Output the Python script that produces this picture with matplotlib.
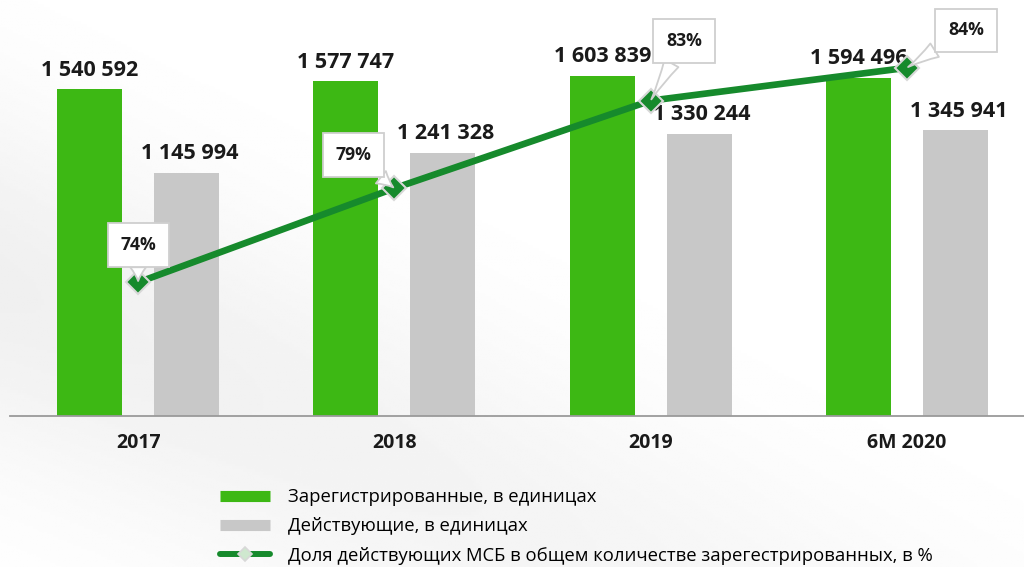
import matplotlib
matplotlib.use("Agg")
import matplotlib.pyplot as plt
from matplotlib.lines import Line2D
import numpy as np

categories = ["2017", "2018", "2019", "6M 2020"]
registered = [1540592, 1577747, 1603839, 1594496]
active = [1145994, 1241328, 1330244, 1345941]
share_pct = [74.4, 78.7, 82.7, 84.2]
share_labels = ["74%", "79%", "83%", "84%"]
value_labels_reg = ["1 540 592", "1 577 747", "1 603 839", "1 594 496"]
value_labels_act = ["1 145 994", "1 241 328", "1 330 244", "1 345 941"]

legend_labels = ["Зарегистрированные, в единицах",
                 "Действующие, в единицах",
                 "Доля действующих МСБ в общем количестве зарегестрированных, в %"]

GREEN = "#3db814"
GRAY = "#c8c8c8"
DKGREEN = "#168a2c"

plt.rcParams['font.family'] = ['Open Sans', 'DejaVu Sans']

fig = plt.figure(figsize=(10.24, 5.67), dpi=100)

# faint background shading
bg = fig.add_axes([0, 0, 1, 1], zorder=-10)
yy, xx = np.mgrid[0:1:200j, 0:1:360j]
d = (xx * 0.9 + (1 - yy) * 1.1)
shade = np.clip(1.0 - 0.06 * np.exp(-((d - 0.55) / 0.35) ** 2) * (1 - xx * 0.6), 0, 1)
bg.imshow(shade, cmap="gray", vmin=0, vmax=1, aspect="auto", extent=[0, 1, 0, 1],
          origin="upper")
bg.set_axis_off()

ax = fig.add_axes([10/1024, 1-416/567, 1-10/1024, 396/567])
ax.patch.set_alpha(0)
x = np.arange(len(categories))
off = 0.189
w = 0.254
ax.bar(x - off, registered, width=w, color=GREEN, zorder=2)
ax.bar(x + off, active, width=w, color=GRAY, zorder=2)
ax.set_xlim(-0.5, 3.457)
ax.set_ylim(0, 1865600)
for s in ["top", "right", "left"]:
    ax.spines[s].set_visible(False)
ax.spines["bottom"].set_color("#9a9a9a")
ax.spines["bottom"].set_linewidth(1.3)
ax.set_yticks([])
ax.set_xticks(x)
ax.set_xticklabels(categories, fontsize=14, fontweight="bold", color="#1a1a1a")
ax.tick_params(axis="x", length=0, pad=12)

for i in range(len(x)):
    ax.annotate(value_labels_reg[i], (x[i] - off, registered[i]), xytext=(0, 6),
                textcoords="offset points", ha="center", va="bottom",
                fontsize=15.5, fontweight="bold", color="#1a1a1a", zorder=5)
    ax.annotate(value_labels_act[i], (x[i] + off + 0.012, active[i]), xytext=(0, 6),
                textcoords="offset points", ha="center", va="bottom",
                fontsize=15.5, fontweight="bold", color="#1a1a1a", zorder=5)

ax2 = ax.twinx()
ax2.set_ylim(68.3, 68.3 + 396/21.9)
ax2.set_axis_off()
ax2.plot(x, share_pct, color=DKGREEN, lw=4.8, solid_capstyle="round", zorder=3)
ax2.plot(x, share_pct, ls="none", marker="D", ms=12, mfc=DKGREEN, mec="#d8d8d8",
         mew=1.5, zorder=4)

offsets = [(0, 27), (-29.5, 24), (24, 43), (42.5, 27)]
for i in range(len(x)):
    ax2.annotate(share_labels[i], (x[i], share_pct[i]), xytext=offsets[i],
                 textcoords="offset points", ha="center", va="center",
                 fontsize=12.7, fontweight="bold", color="#1a1a1a",
                 bbox=dict(boxstyle="square,pad=0.72", fc="white", ec="#cfcfcf", lw=1.3),
                 arrowprops=dict(arrowstyle="wedge,tail_width=0.9,shrink_factor=0.4",
                                 fc="white", ec="#cfcfcf", lw=1.3, shrinkA=0, shrinkB=1),
                 zorder=6)

handles = [
    Line2D([0], [0], color=GREEN, lw=8, solid_capstyle="butt"),
    Line2D([0], [0], color=GRAY, lw=8, solid_capstyle="butt"),
    Line2D([0], [0], color=DKGREEN, lw=4.3, solid_capstyle="round", marker="D",
           ms=7, mfc="#cfe8cf", mec="#d8d8d8", mew=1.2),
]
fig.legend(handles, legend_labels, loc="upper left", bbox_to_anchor=(220/1024, 1-488/567),
           frameon=False, fontsize=13.3, handlelength=2.7, handletextpad=1.0,
           labelspacing=0.62, borderpad=0, borderaxespad=0)

fig.savefig("out.png", dpi=100, facecolor="white")
